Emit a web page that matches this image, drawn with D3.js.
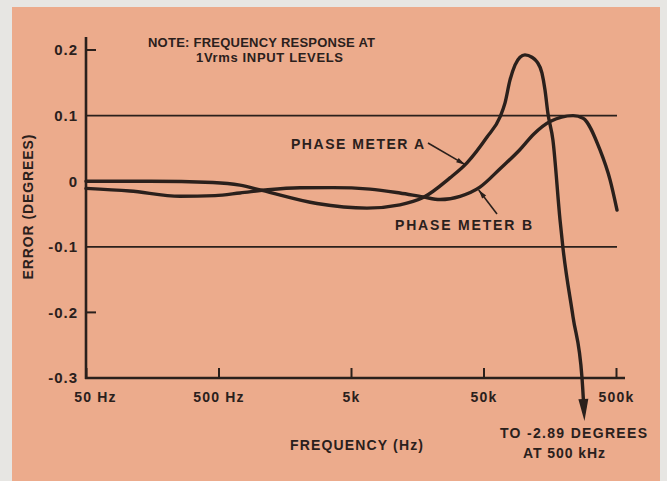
<!DOCTYPE html>
<html>
<head>
<meta charset="utf-8">
<script src="https://cdn.jsdelivr.net/npm/d3@7"></script>
<style>
  html, body { margin: 0; padding: 0; background: #e7e6e3; }
  svg { display: block; }
  text { font-family: "Liberation Sans", Arial, sans-serif; font-weight: bold; fill: #2a201c; }
</style>
</head>
<body>
<svg id="chart" width="667" height="481"></svg>
<script>
// Axis ticks
const freqTicks = [50, 500, 5000, 50000, 500000];
const freqTickLabels = ["50 Hz", "500 Hz", "5k", "50k", "500k"];
const errorTicks = [0.2, 0.1, 0, -0.1, -0.2, -0.3];
const errorTickLabels = ["0.2", "0.1", "0", "-0.1", "-0.2", "-0.3"];
const errorGridlines = [0.1, -0.1];
const errorShortTicks = [0.2, -0.2];

// Phase meter A: error (degrees) vs frequency (Hz); falls to -2.89 at 500 kHz
const meterAFreq  = [50, 152, 454, 726, 1065, 2770, 6600, 11700, 17500, 27900, 37500, 53000,
                     66700, 72600, 79200, 86400, 94300, 102800, 116000, 126700, 138000, 145600,
                     153000, 167000, 189000, 199000, 237000, 277000, 500000];
const meterAError = [0, 0, -0.002, -0.006, -0.014, -0.034, -0.041, -0.036, -0.025, 0.005, 0.028, 0.067,
                     0.098, 0.119, 0.154, 0.177, 0.189, 0.1925, 0.189, 0.182, 0.165, 0.139,
                     0.104, 0.063, -0.059, -0.102, -0.207, -0.300, -2.89];

// Phase meter B
const meterBFreq  = [50, 107, 256, 471, 726, 1180, 2060, 3660, 6960, 11700, 17500, 23500, 33300,
                     47000, 66700, 94000, 120000, 159000, 237000, 282000, 378000, 451000, 509000];
const meterBError = [-0.011, -0.015, -0.023, -0.022, -0.018, -0.013, -0.010, -0.0098, -0.012, -0.018,
                     -0.024, -0.028, -0.023, -0.009, 0.019, 0.048, 0.072, 0.091, 0.100, 0.096,
                     0.048, 0.002, -0.044];

const W = 667, H = 481;
const ink = "#2a201c";
const svg = d3.select("#chart");

svg.append("rect").attr("width", W).attr("height", H).attr("fill", "#e7e6e3");
svg.append("rect").attr("x", 12).attr("y", 7).attr("width", 648).attr("height", 474).attr("fill", "#ecab8c");

const x = d3.scaleLog().domain([50, 500000]).range([86, 616]);
const y = d3.scaleLinear().domain([-0.3, 0.2]).range([378, 50]);

// x axis
const xAxis = d3.axisBottom(x)
  .tickValues(freqTicks)
  .tickFormat(d => freqTickLabels[freqTicks.indexOf(d)])
  .tickSizeInner(-10).tickSizeOuter(0).tickPadding(14);
const gx = svg.append("g").attr("transform", `translate(0,${y(-0.3)})`).call(xAxis);
gx.select(".domain").remove();
gx.selectAll(".tick line").attr("stroke", ink).attr("stroke-width", 2);
gx.selectAll(".tick text")
  .attr("font-size", 14).attr("font-family", null).attr("fill", ink)
  .style("letter-spacing", "1.2px")
  .attr("dx", d => d === 50 ? 9 : 0);

// y axis
const yAxis = d3.axisLeft(y)
  .tickValues(errorTicks)
  .tickFormat(d => errorTickLabels[errorTicks.indexOf(d)])
  .tickSize(0).tickPadding(8);
const gy = svg.append("g").attr("transform", `translate(${x(50)},0)`).call(yAxis);
gy.select(".domain").remove();
gy.selectAll(".tick line").remove();
gy.selectAll(".tick text")
  .attr("font-size", 15).attr("font-family", null).attr("fill", ink)
  .style("letter-spacing", "1px");

// gridlines and short ticks
svg.append("g").selectAll("line").data(errorGridlines).join("line")
  .attr("x1", x(50)).attr("x2", x(500000) + 1)
  .attr("y1", d => y(d)).attr("y2", d => y(d))
  .attr("stroke", ink).attr("stroke-width", 1.8);
svg.append("g").selectAll("line").data(errorShortTicks).join("line")
  .attr("x1", x(50)).attr("x2", x(50) + 10)
  .attr("y1", d => y(d)).attr("y2", d => y(d))
  .attr("stroke", ink).attr("stroke-width", 2);

// axis lines
svg.append("line").attr("x1", x(50)).attr("x2", x(50))
  .attr("y1", y(-0.3) + 1).attr("y2", y(0.2) - 13)
  .attr("stroke", ink).attr("stroke-width", 2.6);
svg.append("line").attr("x1", x(50) - 1).attr("x2", x(500000) + 9)
  .attr("y1", y(-0.3)).attr("y2", y(-0.3))
  .attr("stroke", ink).attr("stroke-width", 2.6);

// curves
const line = d3.line().x(d => x(d[0])).y(d => y(d[1])).curve(d3.curveMonotoneX);
const dataA = meterAFreq.map((f, i) => [f, meterAError[i]]);
const dataB = meterBFreq.map((f, i) => [f, meterBError[i]]);

const tipY = y(-0.3) + 43, headLen = 22, headW = 10;
svg.append("clipPath").attr("id", "clipA")
  .append("rect").attr("x", 0).attr("y", 0).attr("width", W).attr("height", tipY - headLen + 2);

const pathB = svg.append("path").datum(dataB).attr("d", line)
  .attr("fill", "none").attr("stroke", ink).attr("stroke-width", 3.4).attr("stroke-linecap", "round");
const pathA = svg.append("path").datum(dataA).attr("d", line).attr("clip-path", "url(#clipA)")
  .attr("fill", "none").attr("stroke", ink).attr("stroke-width", 3.4).attr("stroke-linecap", "round");

// find the point along a path where a coordinate first reaches a target
function pointWhere(node, test) {
  const L = node.getTotalLength();
  let lo = 0, hi = L;
  for (let k = 0; k < 40; k++) {
    const mid = (lo + hi) / 2;
    if (test(node.getPointAtLength(mid))) hi = mid; else lo = mid;
  }
  return node.getPointAtLength(hi);
}

function arrowHead(tip, from, len, w) {
  const dx = tip.x - from.x, dy = tip.y - from.y, d = Math.hypot(dx, dy);
  const ux = dx / d, uy = dy / d;
  const bx = tip.x - ux * len, by = tip.y - uy * len;
  svg.append("path")
    .attr("d", `M${tip.x},${tip.y}L${bx - uy * w / 2},${by + ux * w / 2}L${bx + uy * w / 2},${by - ux * w / 2}Z`)
    .attr("fill", ink);
}

// arrow where meter A runs off the bottom of the chart
const nodeA = pathA.node();
const aTip = pointWhere(nodeA, p => p.y >= tipY);
const aBase = pointWhere(nodeA, p => p.y >= tipY - headLen);
arrowHead(aTip, aBase, headLen, headW);

// label arrows
function labelArrow(x1, y1, tip) {
  svg.append("line").attr("x1", x1).attr("y1", y1).attr("x2", tip.x).attr("y2", tip.y)
    .attr("stroke", ink).attr("stroke-width", 1.6);
  arrowHead(tip, {x: x1, y: y1}, 9, 5);
}
const tipAlabel = pointWhere(nodeA, p => p.x >= x(37000));
labelArrow(428, 143, {x: tipAlabel.x - 1, y: tipAlabel.y + 1});
const tipBlabel = pointWhere(pathB.node(), p => p.x >= x(46000));
labelArrow(497, 214, {x: tipBlabel.x, y: tipBlabel.y + 2});

// text
function label(txt, tx, ty, size, len) {
  return svg.append("text").attr("x", tx).attr("y", ty).attr("font-size", size)
    .attr("textLength", len).attr("lengthAdjust", "spacing").text(txt);
}
label("NOTE: FREQUENCY RESPONSE AT", 148, 47, 13, 227);
label("1Vrms INPUT LEVELS", 196, 62, 13, 147);
label("PHASE METER A", 291, 149, 14, 133);
label("PHASE METER B", 395, 230, 14, 137);
label("TO -2.89 DEGREES", 500, 438, 14, 147);
label("AT 500 kHz", 523, 458, 14, 82);
label("FREQUENCY (Hz)", 290, 450, 14, 133);
svg.append("text")
  .attr("transform", "translate(33,207) rotate(-90)")
  .attr("text-anchor", "middle").attr("font-size", 14)
  .attr("textLength", 145).attr("lengthAdjust", "spacing")
  .text("ERROR (DEGREES)");
</script>
</body>
</html>
